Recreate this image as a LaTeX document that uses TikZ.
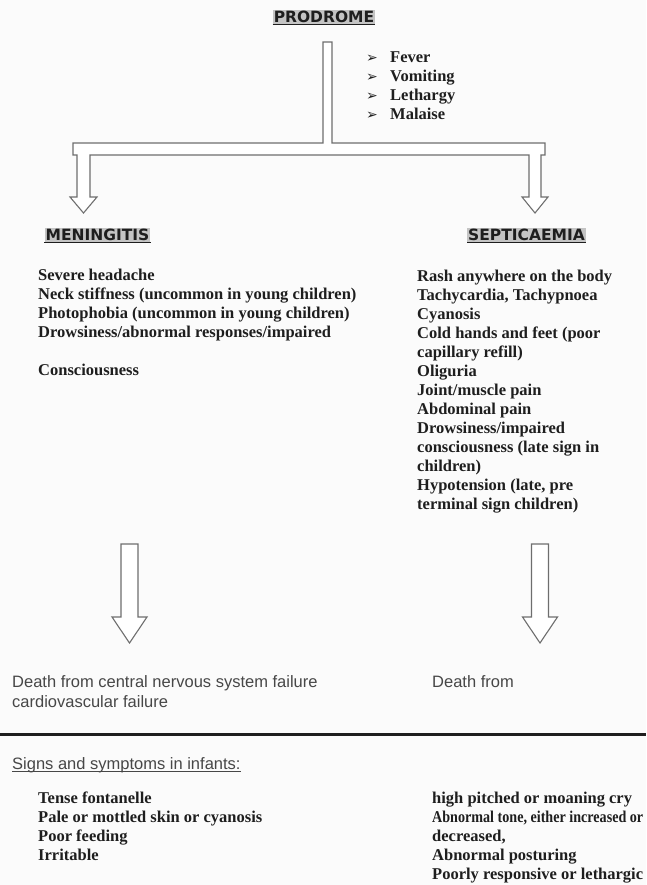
\documentclass[tikz,border=0pt]{standalone}
\usepackage{graphicx}
\usepackage{fontspec}
\setmainfont{Liberation Serif}
\setsansfont{Liberation Sans}
\newfontfamily\headfont{DejaVu Sans}
\usetikzlibrary{positioning}
\definecolor{ScanInk}{HTML}{1E1E1E}
\definecolor{ScanGray}{HTML}{6E6E6E}
\definecolor{ScanShade}{HTML}{C4C4C4}
\definecolor{ScanPaper}{HTML}{FBFBFB}
\newcommand{\squeezeline}[1]{\resizebox{211pt}{\height}{#1}}

\begin{document}
\begin{tikzpicture}[
  x=1pt,
  y=-1pt,
  heading/.style={
    fill=ScanShade,
    inner xsep=1pt,
    inner ysep=1.5pt,
    anchor=base,
    font=\headfont\bfseries\fontsize{15.5}{18}\selectfont,
    text=ScanInk
  },
  item/.style={
    anchor=base west,
    inner sep=0pt,
    font=\bfseries\fontsize{16.5}{19}\selectfont,
    text=ScanInk
  },
  plain/.style={
    anchor=base west,
    inner sep=0pt,
    font=\sffamily\fontsize{16.5}{20}\selectfont,
    text=black!72
  },
  bullet/.style={
    anchor=base west,
    inner sep=0pt,
    font=\headfont\fontsize{14}{19}\selectfont,
    text=ScanInk
  },
  block/.style={
    draw=ScanGray,
    fill=white,
    line width=1.1pt,
    line join=miter
  },
  underline/.style={
    draw=ScanInk,
    line width=1pt
  }
]

\fill[ScanPaper] (0,0) rectangle (646,885);
\useasboundingbox (0,0) rectangle (646,885);

% prodrome and its symptoms
\node[heading] (prodrome) at (324,22.6) {PRODROME};
\draw[underline] (prodrome.south west) -- (prodrome.south east);

\foreach \t [count=\i] in {Fever,Vomiting,Lethargy,Malaise} {
  \node[bullet] (pbul\i) at (366,{63+19*(\i-1)}) {➢};
  \node[item] (prod\i) at (390,{63+19*(\i-1)}) {\t};
}

% stem, bar and the two upper arrows
\draw[block] (323,42) -- (332,42) -- (332,143) -- (545,143) -- (545,155)
  -- (541,155) -- (541,197) -- (548,197) -- (535,213) -- (522,197)
  -- (529,197) -- (529,155) -- (90,155) -- (90,197) -- (97,197)
  -- (83.5,213) -- (70,197) -- (77,197) -- (77,155) -- (73,155)
  -- (73,143) -- (323,143) -- cycle;

% meningitis
\node[heading] (menhead) at (97.5,240.6) {MENINGITIS};
\draw[underline] (menhead.south west) -- (menhead.south east);

\foreach \t [count=\i] in {
  Severe headache,
  Neck stiffness (uncommon in young children),
  Photophobia (uncommon in young children),
  Drowsiness/abnormal responses/impaired,
  {},
  Consciousness} {
  \node[item] (men\i) at (38,{280+19*(\i-1)}) {\t};
}

% septicaemia
\node[heading] (sephead) at (526.5,240.6) {SEPTICAEMIA};
\draw[underline] (sephead.south west) -- (sephead.south east);

\foreach \t [count=\i] in {
  Rash anywhere on the body,
  {Tachycardia, Tachypnoea},
  Cyanosis,
  Cold hands and feet (poor,
  capillary refill),
  Oliguria,
  Joint/muscle pain,
  Abdominal pain,
  Drowsiness/impaired,
  consciousness (late sign in,
  children),
  {Hypotension (late, pre},
  terminal sign children)} {
  \node[item] (sep\i) at (417,{281+19*(\i-1)}) {\t};
}

% lower arrows
\foreach \cx in {129.5,540} {
  \draw[block] ({\cx-8.5},544) -- ({\cx+8.5},544) -- ({\cx+8.5},617)
    -- ({\cx+17.5},617) -- (\cx,643) -- ({\cx-17.5},617)
    -- ({\cx-8.5},617) -- cycle;
}

% outcomes
\node[plain] (menout1) at (12,687) {Death from central nervous system failure};
\node[plain] (menout2) at (12,707) {cardiovascular failure};
\node[plain] (sepout) at (432,687) {Death from};

% infants
\draw[draw=ScanInk,line width=3pt] (0,734) -- (646,734);

\node[plain] (infhead) at (12,769) {Signs and symptoms in infants:};
\draw[draw=black!72,line width=0.8pt] ([yshift=-2pt]infhead.base west) -- ([yshift=-2pt]infhead.base east);

\foreach \t [count=\i] in {
  Tense fontanelle,
  Pale or mottled skin or cyanosis,
  Poor feeding,
  Irritable} {
  \node[item] (infl\i) at (38,{803+19*(\i-1)}) {\t};
}

\foreach \t [count=\i] in {
  high pitched or moaning cry,
  {\squeezeline{Abnormal tone, either increased or}},
  {decreased,},
  Abnormal posturing,
  Poorly responsive or lethargic} {
  \node[item] (infr\i) at (432,{803+19*(\i-1)}) {\t};
}

\end{tikzpicture}
\end{document}
